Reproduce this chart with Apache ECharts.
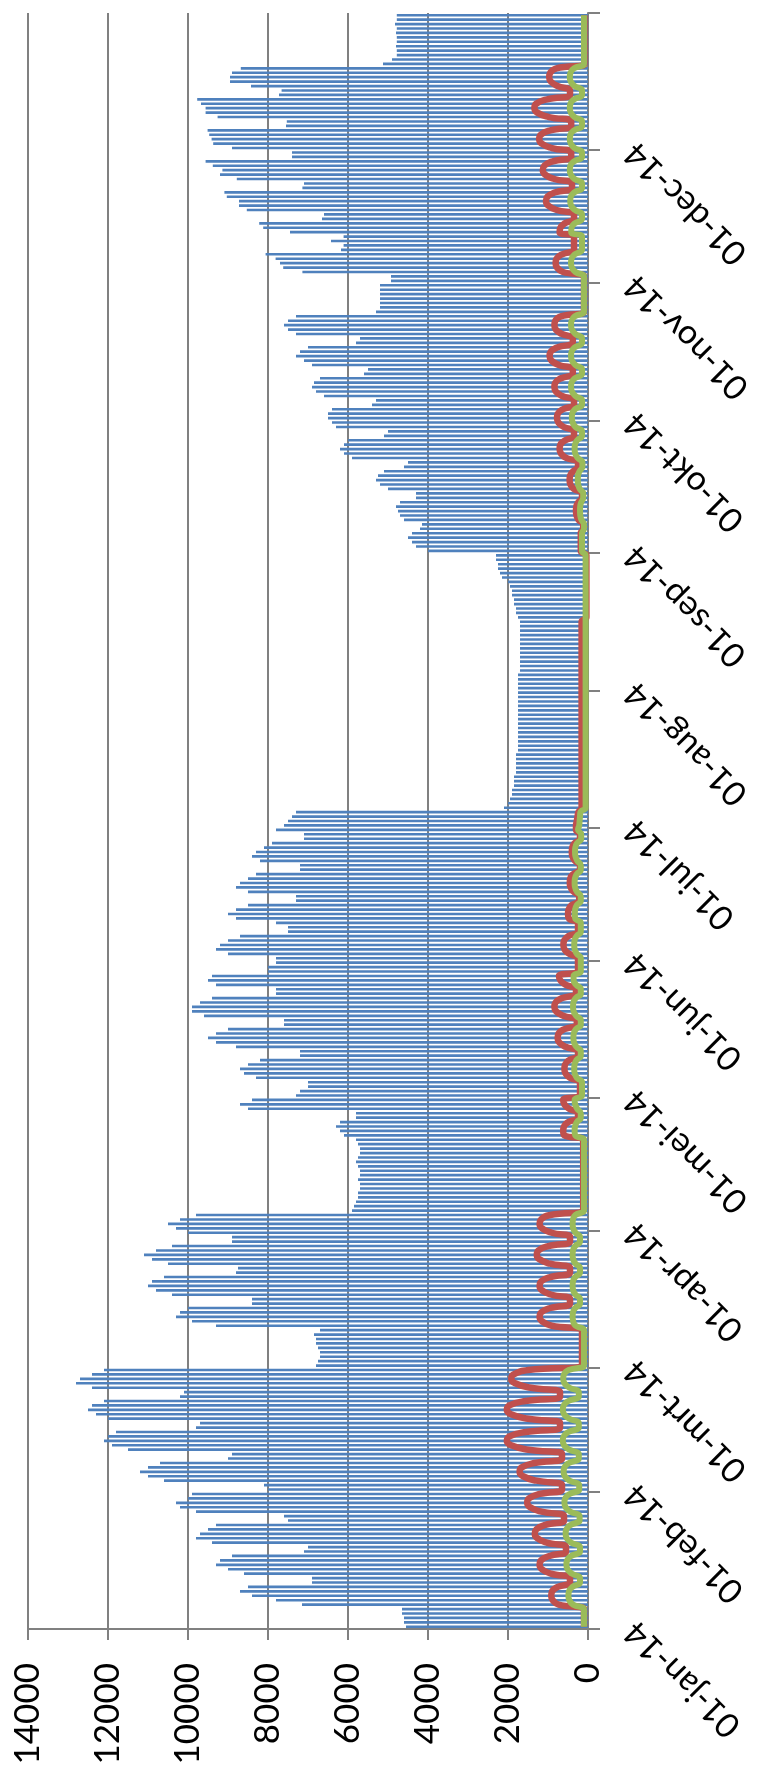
<!DOCTYPE html>
<html><head><meta charset="utf-8">
<script src="https://cdn.jsdelivr.net/npm/echarts@6/dist/echarts.min.js"></script>
<style>html,body{margin:0;padding:0;background:#fff}#c{width:767px;height:1767px}</style>
</head><body><div id="c"></div>
<script>
const monthNames = ['jan','feb','mrt','apr','mei','jun','jul','aug','sep','okt','nov','dec'];
const monthDays = [31,28,31,30,31,30,31,31,30,31,30,31];
const valueTicks = [0,2000,4000,6000,8000,10000,12000,14000];

const blueJan = [4550,4600,4600,4650,4650, 7150,7800,8400,8700,8500,6900,6900, 8600,9000,9300,9200,8900,7100,7000, 9400,9800,9700,9500,9300,7500,7600, 9800,10200,10300,10000,9900];
const blueFeb = [8000,8100, 10600,11000,11200,11000,10700,9000,8900, 11500,11900,12100,12000,11800,9800,9700, 12000,12300,12500,12400,12100,10200,10100, 12400,12800,12700,12400,12100];
const blueMar = [6800,6750,6700,6700,6750,6800,6800,6850,6700, 9300,9900,10300,10200,10000,8400,8400, 10400,10800,11000,10900,10600,8800,8750, 10500,10900,11100,10800,10400,8900,8900, 10000];
const blueApr = [10300,10500,10200,9800, 5900,5850,5800,5750,5750,5700,5700,5750,5700,5700,5750,5800,5750,5700,5700,5750,5800, 6100,6200,6300,6200, 5800,5800, 8500,8700,8400];
const blueMay = [7300,7200,7000,7000, 8300,8600,8700,8500,8200,7200,7200, 8800,9300,9500,9300,9000,7600,7600, 9600,9900,9900,9700,9400,7800,7800, 9300,9500,9400,8000,8000,7800];
const blueJun = [7800, 9000,9300,9200,9000,8700,7500,7500, 7800,8800,9000,8800,8500,7300,7300, 8500,8800,8700,8500,8300,7200,7200, 8200,8400,8300,8100,7900,7100,7100, 7800];
const blueJul = [7600,7500,7400,7300, 2100,2000,1950,1900,1900,1850,1850,1850,1800,1800,1800,1800,1800,1750,1750,1750,1750,1750,1750,1750,1750,1750,1750,1750,1750,1750,1750];
const blueAug = [1750,1750,1750,1750,1700,1700,1700,1700,1700,1700,1700,1700,1700,1700,1700,1700,1750,1800,1800,1850,1850,1900,1900,1950,2000,2150,2200,2250,2250,2300,2300];
const blueSep = [4000,4300,4400,4500,4400,4200,4150, 4600,4700,4750,4800,4700,4300,4300, 5000,5200,5300,5250,5100,4600,4500, 5900,6100,6200,6100,6000,5100,5000, 6300,6400];
const blueOct = [6500,6500,6400,5400,5300, 6600,6800,6900,6850,6700,5600,5500, 6900,7100,7300,7200,7000,5800,5700, 7300,7500,7600,7500,7300, 5300,5200,5200,5200,5200,5200,5200];
const blueNov = [4925,4925, 7140,7620,7700,7810,8060,6175,6110, 6425,6110,7450,8120,8220,6650,6600, 8530,8725,8725,9030,9090,7140,7100, 8780,9200,9140,9380,9560,7400,7400];
const blueDec = [8900,9370,9410,9470,9510,7550,7530, 9260,9560,9560,9675,9770,7725,7660, 8425,8950,8950,8900,8680,5125,4900, 4780,4780,4800,4780,4780,4800,4780,4825,4780,4780];

const redJan = [100,100,100,100,100, 732,882,920,897,756,450,450, 926,1153,1210,1175,962,550,550, 1028,1270,1330,1292,1066,600,600, 1162,1448,1520,1475,1207];
const redFeb = [650,650, 1286,1625,1710,1657,1339,650,650, 1488,1922,2030,1962,1556,700,700, 1498,1924,2030,1964,1565,700,700, 1432,1822,1920,1859,1493];
const redMar = [150,150,150,150,150,150,150,150,150, 906,1149,1210,1172,944,450,450, 906,1149,1210,1172,944,450,450, 948,1214,1280,1239,990,450,450, 906];
const redApr = [1149,1210,1172,944, 120,120,120,120,120,120,120,120,120,120,120,120,120,120,120,120,120, 590,620,601,490, 250,250, 472,590,620];
const redMay = [200,200,200,200, 454,563,590,573,471,250,250, 562,720,760,735,587,280,280, 620,796,840,812,647,300,300, 555,691,725,250,250,250];
const redJun = [250, 469,586,615,597,487,250,250, 250,478,500,486,409,220,220, 357,435,455,443,369,200,200, 323,389,405,395,333,200,200, 300];
const redJul = [300,280,260,240,160,160,160,160,160,160,160,160,160,160,160,160,160,160,160,160,160,160,160,160,160,160,160,160,160,160,160];
const redAug = [160,160,160,160,160,160,160,160,160,160,160,160,160,160,160,160,40,40,40,40,40,40,40,40,40,40,40,40,40,40,40];
const redSep = [180,180,180,180,180,120,120, 234,287,300,292,242,150,150, 356,439,460,447,369,250,250, 546,677,710,690,567,350,350, 605,741];
const redOct = [775,754,626,350,350, 650,802,840,816,674,380,380, 728,914,960,931,757,380,380, 656,803,840,817,679, 100,100,100,100,100,100,100];
const redNov = [100,100, 626,773,810,787,649,350,350, 350,350,710,690,580,350,350, 780,996,1050,1016,814,400,400, 842,1072,1130,1094,878,420,420];
const redDec = [900,1156,1220,1180,940,420,420, 978,1268,1340,1295,1023,450,450, 762,928,970,944,788, 90,90,90,90,90,90,90,90,90,90,90,90];

const greenJan = [100,100,100,100,100, 374,467,490,476,389,200,200, 404,513,540,523,421,200,200, 418,532,560,542,436,210,210, 440,560,590,571,459];
const greenFeb = [220,220, 456,579,610,591,475,230,230, 470,598,630,610,490,230,230, 470,598,630,610,490,230,230, 464,589,620,601,484];
const greenMar = [100,100,100,100,100,100,100,100,100, 311,370,385,376,320,200,200, 311,370,385,376,320,200,200, 311,370,385,376,320,200,200, 311];
const greenApr = [370,385,376,320, 100,100,100,100,100,100,100,100,100,100,100,100,100,100,100,100,100, 320,335,326,280, 180,180, 270,320,335];
const greenMay = [150,150,150,150, 279,332,345,337,287,180,180, 291,350,365,356,300,180,180, 297,359,375,365,307,180,180, 297,359,360,180,180,180];
const greenJun = [180, 279,332,345,337,287,180,180, 180,320,330,322,280,180,180, 273,323,335,327,281,180,180, 265,313,325,318,273,170,170, 250];
const greenJul = [220,210,200,190,60,60,60,60,60,60,60,60,60,60,60,60,60,60,60,60,60,60,60,60,60,60,60,60,60,60,60];
const greenAug = [60,60,60,60,60,60,60,60,60,60,60,60,60,60,60,60,60,60,60,60,60,60,60,60,60,60,60,60,60,60,60];
const greenSep = [150,150,150,150,150,100,100, 164,193,200,196,169,120,120, 205,245,255,249,211,140,140, 259,320,335,326,269,150,150, 312,383];
const greenOct = [405,393,326,150,150, 315,403,425,411,329,150,150, 315,403,425,411,329,150,150, 315,403,425,411,329, 100,100,100,100,100,100,100];
const greenNov = [100,100, 315,403,425,411,329,150,150, 150,150,420,410,330,150,150, 327,421,445,430,342,150,150, 333,431,455,440,348,150,150];
const greenDec = [333,431,455,440,348,150,150, 333,431,455,440,348,150,150, 333,431,455,440,348, 100,100,100,100,100,100,100,100,100,100,100,100];

const blue = [].concat(blueJan,blueFeb,blueMar,blueApr,blueMay,blueJun,blueJul,blueAug,blueSep,blueOct,blueNov,blueDec);
const red = [].concat(redJan,redFeb,redMar,redApr,redMay,redJun,redJul,redAug,redSep,redOct,redNov,redDec);
const green = [].concat(greenJan,greenFeb,greenMar,greenApr,greenMay,greenJun,greenJul,greenAug,greenSep,greenOct,greenNov,greenDec);

const categories = [];
monthNames.forEach(function(m, mi){
  for (let d = 1; d <= monthDays[mi]; d++) categories.push((d < 10 ? '0' : '') + d + '-' + m + '-14');
});
const isMonthStart = function(idx){ return categories[idx].slice(0,2) === '01'; };

const FONT = 'Lato';
const GRID = '#808080';
const chart = echarts.init(document.getElementById('c'), null, {renderer:'canvas', width:767, height:1767});
chart.setOption({
  animation: false,
  backgroundColor: '#ffffff',
  grid: {left: 28, right: 179, top: 13, bottom: 138, containLabel: false, outerBoundsMode: 'none'},
  xAxis: {
    type: 'value', inverse: true, position: 'bottom',
    min: valueTicks[0], max: valueTicks[valueTicks.length-1], interval: 2000,
    axisLine: {show: true, lineStyle: {color: GRID, width: 2}},
    axisTick: {show: true, length: 11, lineStyle: {color: GRID, width: 2}},
    axisLabel: {rotate: 90, margin: 34, fontSize: 35, fontFamily: FONT, color: '#000',
      formatter: function(v){ return String(v); }},
    splitLine: {show: true, lineStyle: {color: GRID, width: 2}}
  },
  yAxis: {
    type: 'category', position: 'right', data: categories, boundaryGap: true,
    axisLine: {show: true, onZero: false, lineStyle: {color: GRID, width: 2}},
    axisTick: {show: true, length: 12, interval: isMonthStart, lineStyle: {color: GRID, width: 2}},
    axisLabel: {interval: isMonthStart, rotate: 135, margin: 42, fontSize: 34, fontFamily: FONT, color: '#000'},
    splitLine: {show: false}
  },
  series: [
    {type: 'bar', data: blue, barWidth: '60%', itemStyle: {color: '#4F81BD'}, silent: true},
    {type: 'line', data: red, smooth: 0.5, symbol: 'none', lineStyle: {color: '#C0504D', width: 6.5}, z: 3},
    {type: 'line', data: green, smooth: 0.5, symbol: 'none', lineStyle: {color: '#9BBB59', width: 6}, z: 4}
  ]
});
</script>
</body></html>
